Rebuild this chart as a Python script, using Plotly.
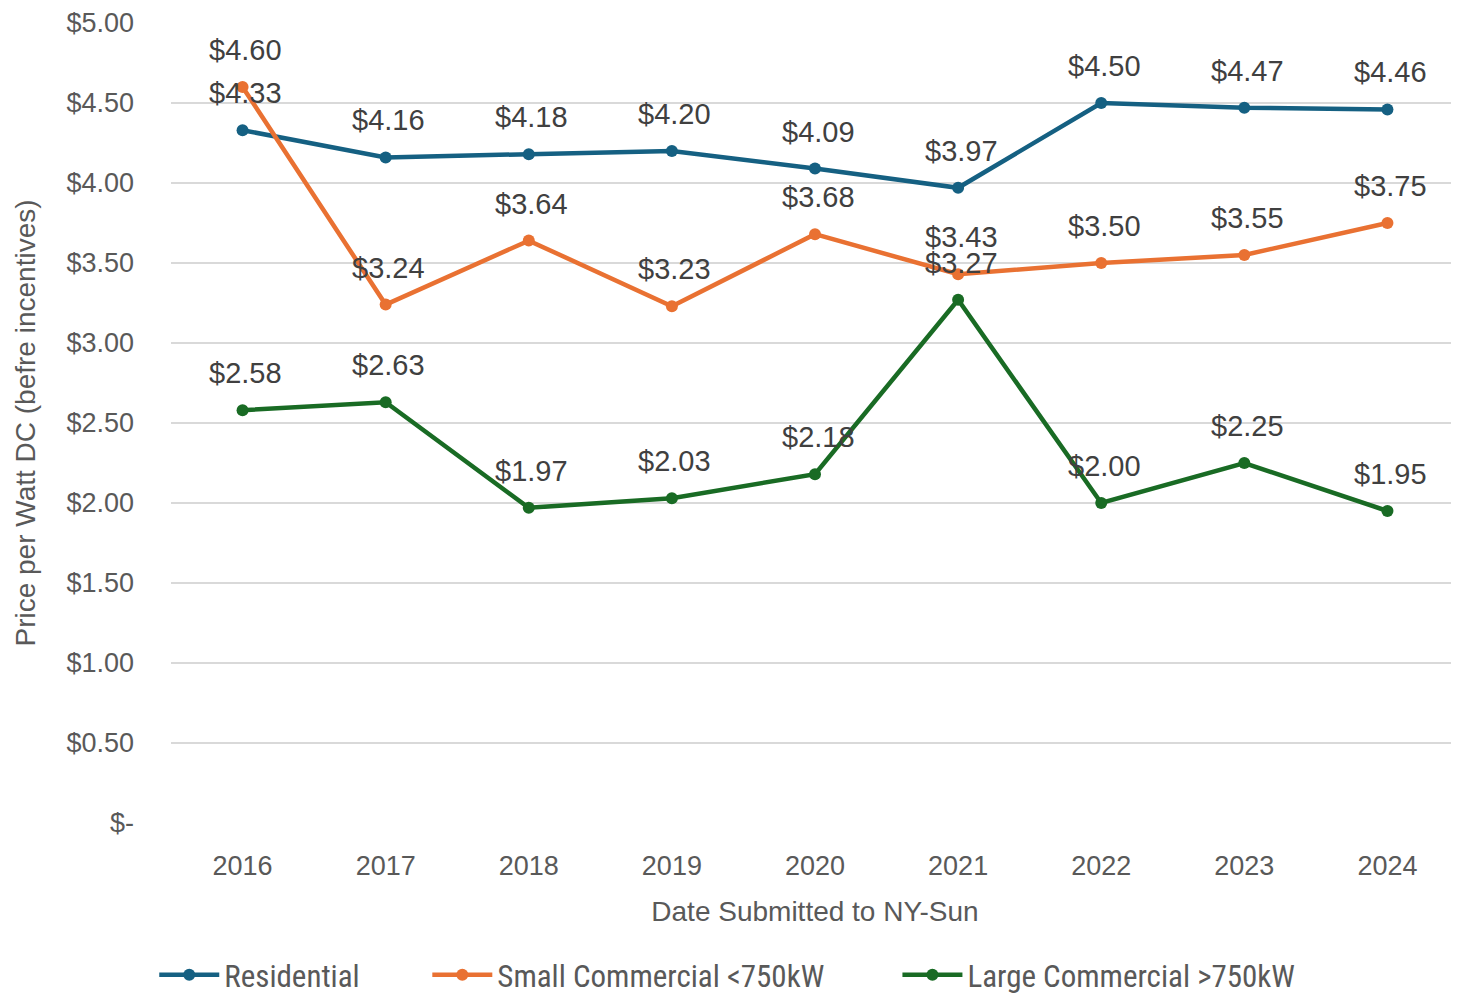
import plotly.graph_objects as go

# --- data ---
years = ['2016', '2017', '2018', '2019', '2020', '2021', '2022', '2023', '2024']
residential = [4.33, 4.16, 4.18, 4.20, 4.09, 3.97, 4.50, 4.47, 4.46]
small_comm = [4.60, 3.24, 3.64, 3.23, 3.68, 3.43, 3.50, 3.55, 3.75]
large_comm = [2.58, 2.63, 1.97, 2.03, 2.18, 3.27, 2.00, 2.25, 1.95]

y_ticks = [0, 0.5, 1, 1.5, 2, 2.5, 3, 3.5, 4, 4.5, 5]
y_tick_text = ['$-', '$0.50', '$1.00', '$1.50', '$2.00', '$2.50', '$3.00',
               '$3.50', '$4.00', '$4.50', '$5.00']

series = [
    ('Residential', residential, '#156082', 'legend', -0.013),
    ('Small Commercial <750kW', small_comm, '#E97132', 'legend2', 0.199),
    ('Large Commercial >750kW', large_comm, '#196B24', 'legend3', 0.564),
]

FONT = 'Liberation Sans, Arial, sans-serif'

fig = go.Figure()
annots = []
legends = {}
for name, vals, color, leg, lx in series:
    fig.add_trace(go.Scatter(
        x=years, y=vals, mode='lines+markers', name=name, legend=leg,
        line=dict(color=color, width=4.5),
        marker=dict(size=12, color=color),
    ))
    # data labels above each point (category index used for x)
    for i, v in enumerate(vals):
        annots.append(dict(
            x=i, y=v, text=f'${v:.2f}', showarrow=False,
            yshift=37, xshift=3,
            font=dict(size=29, color='#404040', family=FONT),
        ))
    legends[leg] = dict(
        orientation='h', x=lx, xanchor='left', y=-0.19, yanchor='middle',
        bgcolor='rgba(0,0,0,0)', itemwidth=60,
        font=dict(size=31, color='#595959',
                  family='Liberation Sans Narrow, Roboto Condensed, Liberation Sans'),
    )

fig.update_xaxes(
    type='category', range=[-0.5, 8.5],
    showgrid=False, showline=False, zeroline=False,
    tickfont=dict(size=27, color='#595959'),
    ticklabelstandoff=24,
    title=dict(text='Date Submitted to NY-Sun', font=dict(size=28, color='#595959'), standoff=21),
)
fig.update_yaxes(
    range=[0, 5], tickvals=y_ticks, ticktext=y_tick_text,
    showgrid=True, gridcolor='#d9d9d9', gridwidth=1.5,
    zeroline=False, showline=False,
    tickfont=dict(size=27, color='#595959'),
    ticklabelstandoff=36,
    title=dict(text='Price per Watt DC (befre incentives)', font=dict(size=28, color='#595959'), standoff=22),
)

# page body has an 8px default margin, so the figure is shrunk to fit the window;
# autoexpand off so the legends below don't squeeze the plot area
fig.update_layout(
    width=1451, height=990,
    margin=dict(l=163, r=0, t=15, b=175, autoexpand=False),
    plot_bgcolor='white', paper_bgcolor='white',
    font=dict(family=FONT, color='#595959'),
    annotations=annots,
    showlegend=True,
    **legends,
)

fig.write_html('out.html')
